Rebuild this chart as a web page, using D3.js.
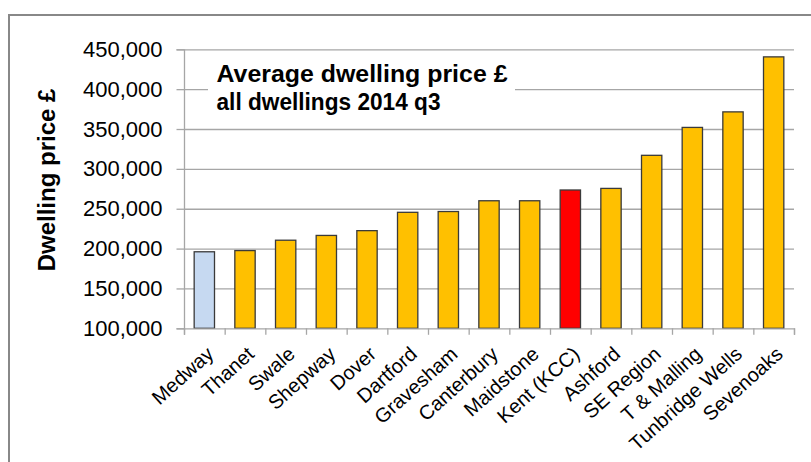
<!DOCTYPE html>
<html>
<head>
<meta charset="utf-8">
<script src="https://cdn.jsdelivr.net/npm/d3@7"></script>
<style>
  html, body { margin: 0; padding: 0; background: #fff; }
  svg { display: block; font-family: "Liberation Sans", Arial, sans-serif; }
</style>
</head>
<body>
<svg id="chart" width="811" height="462"></svg>
<script>
// ---- data ----
const categories = ["Medway", "Thanet", "Swale", "Shepway", "Dover", "Dartford", "Gravesham",
  "Canterbury", "Maidstone", "Kent (KCC)", "Ashford", "SE Region", "T & Malling", "Tunbridge Wells", "Sevenoaks"];
const prices = [196000, 197500, 210500, 216500, 222500, 245500, 246500,
  260000, 260000, 273500, 275500, 317000, 352000, 371500, 440500];
const yTicks = [100000, 150000, 200000, 250000, 300000, 350000, 400000, 450000];
const titleLines = ["Average dwelling price £", "all dwellings 2014 q3"];
const yTitle = "Dwelling price £";

const svg = d3.select("#chart");
const pLeft = 184, pRight = 794, pTop = 49.3, pBottom = 328.3;

// outer frame
svg.append("rect").attr("x", 9).attr("y", 15).attr("width", 830).attr("height", 500)
  .attr("fill", "none").attr("stroke", "#888").attr("stroke-width", 2);

const x = d3.scaleBand().domain(categories).range([pLeft, pRight]).paddingInner(0.5).paddingOuter(0.25);
const xb = d3.scaleLinear().domain([0, categories.length]).range([pLeft, pRight]);
const y = d3.scaleLinear().domain([100000, 450000]).range([pBottom, pTop]);

// gridlines
svg.append("g").attr("transform", `translate(${pLeft},0)`)
  .call(d3.axisLeft(y).tickValues(yTicks.slice(1)).tickSize(-(pRight - pLeft)).tickFormat(""))
  .call(g => g.select(".domain").remove())
  .call(g => g.selectAll("line").attr("stroke", "#a6a6a6").attr("stroke-width", 1.3));

// title box (covers gridline)
const titleWidths = [291, 224];
const tg = svg.append("g");
tg.append("rect").attr("x", 208).attr("y", 57).attr("width", 307).attr("height", 60).attr("fill", "#fff");
tg.selectAll("text").data(titleLines).join("text")
  .attr("x", 216.5).attr("y", (d, i) => 82 + i * 28.3)
  .attr("font-size", 24.5).attr("font-weight", "bold").attr("fill", "#000")
  .attr("textLength", (d, i) => titleWidths[i]).attr("lengthAdjust", "spacingAndGlyphs")
  .text(d => d);

// y axis
const ya = svg.append("g").attr("transform", `translate(${pLeft},0)`)
  .call(d3.axisLeft(y).tickValues(yTicks).tickSize(7.5).tickPadding(14).tickFormat(d3.format(",")));
ya.select(".domain").attr("stroke", "#a6a6a6").attr("stroke-width", 1.3);
ya.selectAll("line").attr("stroke", "#a6a6a6").attr("stroke-width", 1.3);
ya.selectAll("text").attr("font-size", 22).attr("fill", "#000").attr("font-family", "Liberation Sans, Arial, sans-serif");

// bars
svg.append("g").selectAll("rect").data(categories).join("rect")
  .attr("x", d => x(d))
  .attr("width", x.bandwidth())
  .attr("y", (d, i) => y(prices[i]))
  .attr("height", (d, i) => y(100000) - y(prices[i]))
  .attr("fill", d => d === "Medway" ? "#c6d9f1" : (d === "Kent (KCC)" ? "#ff0000" : "#ffc000"))
  .attr("stroke", "#3a3a3a").attr("stroke-width", 1.3);

// x axis with boundary ticks
const xa = svg.append("g").attr("transform", `translate(0,${pBottom})`)
  .call(d3.axisBottom(xb).tickValues(d3.range(0, categories.length + 1)).tickSize(6.5).tickFormat(""));
xa.select(".domain").attr("stroke", "#a6a6a6").attr("stroke-width", 1.3);
xa.selectAll("line").attr("stroke", "#a6a6a6").attr("stroke-width", 1.3);

// x labels rotated
svg.append("g").selectAll("text").data(categories).join("text")
  .attr("transform", d => `translate(${x(d) + x.bandwidth() / 2 + 10.5},${pBottom + 27.5}) rotate(-42)`)
  .attr("text-anchor", "end")
  .attr("font-size", 20).attr("fill", "#000")
  .text(d => d);

// y title
svg.append("text")
  .attr("transform", `translate(55,180) rotate(-90)`)
  .attr("text-anchor", "middle")
  .attr("font-size", 24).attr("font-weight", "bold").attr("fill", "#000")
  .text(yTitle);
</script>
</body>
</html>
